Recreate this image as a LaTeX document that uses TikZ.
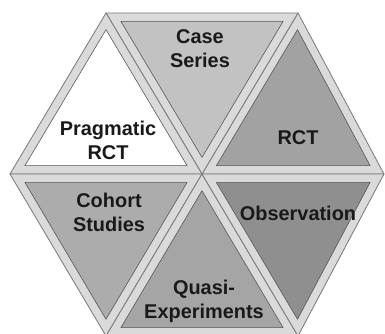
\documentclass[tikz,border=0pt]{standalone}
\usepackage{fontspec}
\setmainfont{Liberation Sans}
\usetikzlibrary{calc}
\definecolor{bandgray}{HTML}{DADADA}
\definecolor{edgegray}{HTML}{7A7A7A}
\definecolor{casegray}{HTML}{C2C2C2}
\definecolor{rctgray}{HTML}{A2A2A2}
\definecolor{obsgray}{HTML}{8F8F8F}
\definecolor{quasigray}{HTML}{A5A5A5}
\definecolor{cohortgray}{HTML}{ACACAC}
\begin{document}
\begin{tikzpicture}[x=0.3mm,y=0.3mm,
    outer/.style={fill=bandgray, draw=edgegray, line width=0.7pt, line join=round},
    inner/.style={draw=edgegray!70!black, line width=0.5pt, line join=round},
    piece/.style={font=\fontsize{17}{20.4}\selectfont\bfseries, align=center, text=black!90}]
    \clip (0,0) rectangle (385,334);
    % Hexagon corners and centre
    \coordinate (c) at (202,160);
    \coordinate (v0) at (384,160); \coordinate (v1) at (298,321); \coordinate (v2) at (106,321);
    \coordinate (v3) at (10,160);  \coordinate (v4) at (106,-2);  \coordinate (v5) at (298,-2);
    % Outer triangles (light band)
    \foreach \a/\b in {v0/v1, v1/v2, v2/v3, v3/v4, v4/v5, v5/v0}
        \draw[outer] (c) -- (\a) -- (\b) -- cycle;
    % Inner triangles, shrunk towards their centroid
    \foreach \a/\b/\col in {v0/v1/rctgray, v1/v2/casegray, v2/v3/white, v3/v4/cohortgray, v4/v5/quasigray, v5/v0/obsgray} {
        \coordinate (g) at ($1/3*(c)+1/3*(\a)+1/3*(\b)$);
        \draw[inner, fill=\col] ($(g)!0.845!(c)$) -- ($(g)!0.845!(\a)$) -- ($(g)!0.845!(\b)$) -- cycle;
    }
    % Labels
    \node[piece] (case) at (200,285) {Case\\Series};
    \node[piece] (rct) at (298,196) {RCT};
    \node[piece] (prag) at (108,194) {Pragmatic\\RCT};
    \node[piece] (cohort) at (109,122) {Cohort\\Studies};
    \node[piece] (obs) at (298,121) {Observation};
    \node[piece] (quasi) at (204,33) {Quasi-\\Experiments};
\end{tikzpicture}
\end{document}
